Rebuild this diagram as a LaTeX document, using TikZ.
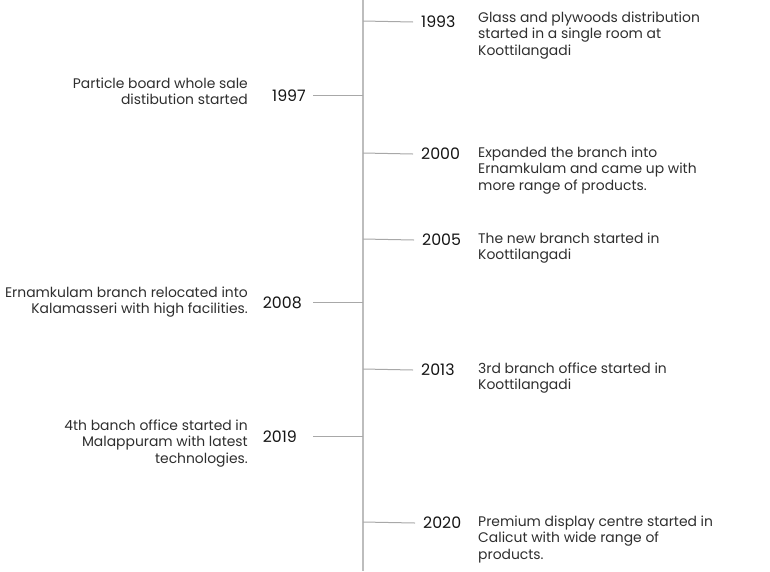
\documentclass[tikz,border=0pt]{standalone}
\usepackage{fontspec}
\setmainfont{Poppins}
\definecolor{axisgray}{HTML}{BDBDBD}
\definecolor{tickgray}{HTML}{A8A8A8}
\definecolor{txt}{HTML}{2E2E2E}
\definecolor{yr}{HTML}{141414}
\begin{document}
\begin{tikzpicture}[x=1pt,y=-1pt,
  axisline/.style={draw=axisgray,line width=2pt},
  tickline/.style={draw=tickgray,line width=1pt},
  yearR/.style={anchor=west,inner xsep=8pt,inner ysep=0pt,font=\fontsize{15.8}{16}\selectfont,text=yr},
  yearL/.style={anchor=east,inner sep=0pt,font=\fontsize{15.8}{16}\selectfont,text=yr},
  descR/.style={anchor=north west,inner sep=0pt,align=left,font=\fontsize{13.9}{16.4}\selectfont,text=txt},
  descL/.style={anchor=north east,inner sep=0pt,align=right,font=\fontsize{13.9}{16.4}\selectfont,text=txt}]
\useasboundingbox (0,0) rectangle (770,571);
\coordinate (top) at (363,0);
\coordinate (bot) at (363,571);
\draw[axisline] (top) -- (bot);
% axis points
\coordinate (p1993) at (363,21);
\coordinate (p1997) at (363,95);
\coordinate (p2000) at (363,153);
\coordinate (p2005) at (363,239);
\coordinate (p2008) at (363,302);
\coordinate (p2013) at (363,369);
\coordinate (p2019) at (363,436);
\coordinate (p2020) at (363,522);
% left tick ends
\coordinate (t1997) at (313,95);
\coordinate (t2008) at (313,302);
\coordinate (t2019) at (313,436);
% years
\node[yearR] (y1993) at (413,22) {1993};
\node[yearL] (y1997) at (306,96) {1997};
\node[yearR] (y2000) at (413,154) {2000};
\node[yearR] (y2005) at (414,240) {2005};
\node[yearL] (y2008) at (302,303) {2008};
\node[yearR] (y2013) at (413,370) {2013};
\node[yearL] (y2019) at (297,437) {2019};
\node[yearR] (y2020) at (415,523) {2020};
% ticks
\foreach \y in {1993,2000,2005,2013,2020} {\draw[tickline] (p\y) -- (y\y.west);}
\foreach \y in {1997,2008,2019} {\draw[tickline] (p\y) -- (t\y);}
% descriptions
\node[descR] (d1993) at (478,11.5) {Glass and plywoods distribution\\started in a single room at\\Koottilangadi};
\node[descR] (d2000) at (478,146.5) {Expanded the branch into\\Ernamkulam and came up with\\more range of products.};
\node[descR] (d2005) at (478,232.5) {The new branch started in\\Koottilangadi};
\node[descR] (d2013) at (478,362.5) {3rd branch office started in\\Koottilangadi};
\node[descR] (d2020) at (478,515.5) {Premium display centre started in\\Calicut with wide range of\\products.};
\node[descL] (d1997) at (248,77.5) {Particle board whole sale\\distibution started};
\node[descL] (d2008) at (248,286.5) {Ernamkulam branch relocated into\\Kalamasseri with high facilities.};
\node[descL] (d2019) at (248,419.5) {4th banch office started in\\Malappuram with latest\\technologies.};
\end{tikzpicture}
\end{document}
